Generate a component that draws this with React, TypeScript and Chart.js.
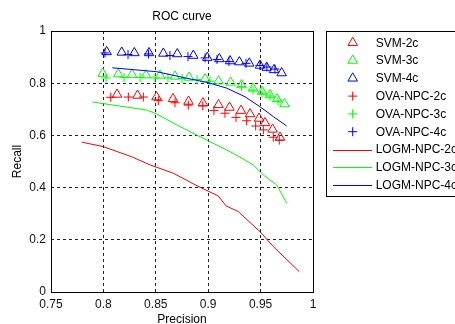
import React, { useEffect, useRef } from 'react';
import { Chart, registerables } from 'chart.js';

Chart.register(...registerables);

// ---- data ----
const xTickValues = [0.75, 0.8, 0.85, 0.9, 0.95, 1];
const xTickLabels = ['0.75', '0.8', '0.85', '0.9', '0.95', '1'];
const yTickValues = [0, 0.2, 0.4, 0.6, 0.8, 1];
const yTickLabels = ['0', '0.2', '0.4', '0.6', '0.8', '1'];

const svm2cX = [0.813, 0.8325, 0.8507, 0.8664, 0.8812, 0.895, 0.9098, 0.9203, 0.9313, 0.9399, 0.9485, 0.9542, 0.9614, 0.9685];
const svm2cY = [0.757, 0.753, 0.747, 0.74, 0.73, 0.724, 0.717, 0.707, 0.695, 0.682, 0.665, 0.648, 0.623, 0.592];

const svm3cX = [0.7993, 0.8142, 0.8273, 0.8406, 0.854, 0.8683, 0.8817, 0.897, 0.9098, 0.9213, 0.9318, 0.9428, 0.9514, 0.959, 0.9657, 0.9728];
const svm3cY = [0.837, 0.835, 0.833, 0.831, 0.83, 0.826, 0.822, 0.816, 0.808, 0.803, 0.793, 0.78, 0.768, 0.755, 0.739, 0.72];

const svm4cX = [0.8031, 0.8175, 0.8295, 0.8435, 0.8572, 0.8705, 0.8858, 0.8991, 0.9106, 0.9208, 0.9297, 0.9392, 0.9494, 0.9558, 0.9628, 0.9701];
const svm4cY = [0.92, 0.918, 0.916, 0.916, 0.914, 0.912, 0.906, 0.898, 0.893, 0.885, 0.881, 0.876, 0.868, 0.86, 0.851, 0.839];

const ova2cX = [0.807, 0.8238, 0.8381, 0.8524, 0.8683, 0.881, 0.8948, 0.9055, 0.916, 0.9265, 0.9367, 0.9453, 0.9526, 0.9621, 0.9678];
const ova2cY = [0.746, 0.747, 0.747, 0.733, 0.725, 0.716, 0.713, 0.695, 0.685, 0.669, 0.656, 0.636, 0.621, 0.593, 0.582];

const ova3cX = [0.8025, 0.8197, 0.835, 0.8492, 0.8616, 0.875, 0.8893, 0.9017, 0.9318, 0.9428, 0.9514, 0.959, 0.9666];
const ova3cY = [0.82, 0.822, 0.822, 0.82, 0.82, 0.818, 0.814, 0.808, 0.787, 0.774, 0.762, 0.751, 0.732];

const ova4cX = [0.8015, 0.8235, 0.843, 0.8635, 0.8807, 0.897, 0.9084, 0.9198, 0.9361, 0.9494, 0.956, 0.9637];
const ova4cY = [0.916, 0.91, 0.912, 0.906, 0.902, 0.897, 0.891, 0.883, 0.876, 0.868, 0.862, 0.854];

const logm2cX = [0.7793, 0.7999, 0.827, 0.8445, 0.8667, 0.8922, 0.9096, 0.917, 0.9287, 0.9494, 0.9621, 0.9869];
const logm2cY = [0.574, 0.557, 0.518, 0.487, 0.455, 0.401, 0.368, 0.33, 0.308, 0.231, 0.174, 0.078];

const logm3cX = [0.7894, 0.8413, 0.8509, 0.87, 0.8986, 0.924, 0.943, 0.9526, 0.9654, 0.9749];
const logm3cY = [0.728, 0.697, 0.682, 0.64, 0.582, 0.531, 0.487, 0.448, 0.41, 0.34];

const logm4cX = [0.8085, 0.8509, 0.8795, 0.9001, 0.9177, 0.9351, 0.9494, 0.9621, 0.9749];
const logm4cY = [0.859, 0.844, 0.819, 0.802, 0.781, 0.748, 0.71, 0.672, 0.636];

const RED = '#ff0000';
const GREEN = '#00ff00';
const BLUE = '#0000ff';
const FONT = '"Liberation Sans", Arial, Helvetica, sans-serif';

const zip = (xs: number[], ys: number[]) => xs.map((x, i) => ({ x, y: ys[i] }));

type Kind = 'triangle' | 'cross' | 'line';

const seriesDefs: { label: string; xs: number[]; ys: number[]; color: string; kind: Kind }[] = [
  { label: 'SVM-2c', xs: svm2cX, ys: svm2cY, color: RED, kind: 'triangle' },
  { label: 'SVM-3c', xs: svm3cX, ys: svm3cY, color: GREEN, kind: 'triangle' },
  { label: 'SVM-4c', xs: svm4cX, ys: svm4cY, color: BLUE, kind: 'triangle' },
  { label: 'OVA-NPC-2c', xs: ova2cX, ys: ova2cY, color: RED, kind: 'cross' },
  { label: 'OVA-NPC-3c', xs: ova3cX, ys: ova3cY, color: GREEN, kind: 'cross' },
  { label: 'OVA-NPC-4c', xs: ova4cX, ys: ova4cY, color: BLUE, kind: 'cross' },
  { label: 'LOGM-NPC-2c', xs: logm2cX, ys: logm2cY, color: RED, kind: 'line' },
  { label: 'LOGM-NPC-3c', xs: logm3cX, ys: logm3cY, color: GREEN, kind: 'line' },
  { label: 'LOGM-NPC-4c', xs: logm4cX, ys: logm4cY, color: BLUE, kind: 'line' },
];

const TRI_R = 5.5;
const CROSS_R = 4.5;

const decorPlugin = {
  id: 'matlabDecor',
  beforeDatasetsDraw(chart: any) {
    const { ctx, chartArea } = chart;
    const l = Math.round(chartArea.left) + 0.5;
    const t = Math.round(chartArea.top) + 0.5;
    const r = Math.round(chartArea.right) + 0.5;
    const b = Math.round(chartArea.bottom) + 0.5;
    ctx.save();
    ctx.strokeStyle = '#000';
    ctx.lineWidth = 1;
    ctx.setLineDash([]);
    ctx.strokeRect(l, t, r - l, b - t);
    ctx.restore();
  },
  afterDraw(chart: any) {
    const { ctx, chartArea } = chart;
    ctx.save();
    ctx.fillStyle = '#000';
    ctx.font = '12px ' + FONT;
    ctx.textBaseline = 'alphabetic';
    ctx.textAlign = 'center';
    const cx = (chartArea.left + chartArea.right) / 2;
    ctx.fillText('ROC curve', cx, 20);
    ctx.fillText('Precision', cx, 322.5);
    ctx.save();
    ctx.translate(20.5, (chartArea.top + chartArea.bottom) / 2);
    ctx.rotate(-Math.PI / 2);
    ctx.fillText('Recall', 0, 0);
    ctx.restore();

    // legend box
    const boxL = 326.5;
    const boxT = 31.5;
    ctx.strokeStyle = '#000';
    ctx.lineWidth = 1;
    ctx.strokeRect(boxL, boxT, 200, 165);
    const rowY0 = 42.7;
    const rowH = 17.8;
    ctx.textAlign = 'left';
    ctx.textBaseline = 'middle';
    chart.data.datasets.forEach((ds: any, i: number) => {
      const y = rowY0 + i * rowH;
      const mx = 352.7;
      ctx.strokeStyle = ds.borderColor;
      ctx.lineWidth = 1;
      ctx.beginPath();
      if (ds.kindTag === 'triangle') {
        const rr = TRI_R;
        ctx.moveTo(mx, y - rr);
        ctx.lineTo(mx + rr * Math.sin((2 * Math.PI) / 3), y + rr / 2);
        ctx.lineTo(mx - rr * Math.sin((2 * Math.PI) / 3), y + rr / 2);
        ctx.closePath();
      } else if (ds.kindTag === 'cross') {
        const rr = CROSS_R;
        ctx.moveTo(mx - rr, y);
        ctx.lineTo(mx + rr, y);
        ctx.moveTo(mx, y - rr);
        ctx.lineTo(mx, y + rr);
      } else {
        ctx.moveTo(333, Math.round(y) + 0.5);
        ctx.lineTo(372, Math.round(y) + 0.5);
      }
      ctx.stroke();
      ctx.fillStyle = '#000';
      ctx.fillText(ds.label, 375.7, y + 0.5);
    });
    ctx.restore();
  },
};

export default function App() {
  const canvasRef = useRef<HTMLCanvasElement | null>(null);

  useEffect(() => {
    if (!canvasRef.current) return;
    const n = seriesDefs.length;
    const datasets = seriesDefs.map((s, i) => {
      const base: any = {
        label: s.label,
        data: zip(s.xs, s.ys),
        borderColor: s.color,
        backgroundColor: 'rgba(0,0,0,0)',
        kindTag: s.kind,
        order: n - i,
      };
      if (s.kind === 'line') {
        return {
          ...base,
          showLine: true,
          borderWidth: 1,
          pointRadius: 0,
          pointHoverRadius: 0,
          fill: false,
          tension: 0,
        };
      }
      return {
        ...base,
        showLine: false,
        pointStyle: s.kind,
        pointRadius: s.kind === 'triangle' ? TRI_R : CROSS_R,
        pointHoverRadius: s.kind === 'triangle' ? TRI_R : CROSS_R,
        pointBorderWidth: 1,
        pointBorderColor: s.color,
        pointBackgroundColor: 'rgba(0,0,0,0)',
      };
    });

    const gridColor = (edgeA: number, edgeB: number) => (c: any) => {
      const v = c.tick ? c.tick.value : null;
      if (v === null) return '#222';
      if (Math.abs(v - edgeA) < 1e-9 || Math.abs(v - edgeB) < 1e-9) return 'rgba(0,0,0,0)';
      return '#222';
    };

    const tickFont = { family: FONT, size: 12 };

    const chart = new Chart(canvasRef.current, {
      type: 'scatter',
      data: { datasets },
      plugins: [decorPlugin],
      options: {
        responsive: false,
        animation: false,
        events: [],
        layout: { padding: { top: 31, right: 142, left: 0, bottom: 0 } },
        plugins: {
          legend: { display: false },
          title: { display: false },
          tooltip: { enabled: false },
        },
        scales: {
          x: {
            type: 'linear',
            min: 0.75,
            max: 1,
            afterBuildTicks: (s: any) => {
              s.ticks = xTickValues.map((v) => ({ value: v }));
            },
            afterFit: (s: any) => {
              s.height = 32;
            },
            grid: { color: gridColor(0.75, 1), lineWidth: 1, drawTicks: false },
            border: { display: false, dash: [3, 3] },
            ticks: {
              callback: (_v: any, i: number) => xTickLabels[i],
              padding: 5,
              font: tickFont,
              color: '#111',
              maxRotation: 0,
              autoSkip: false,
            },
          },
          y: {
            type: 'linear',
            min: 0,
            max: 1,
            afterBuildTicks: (s: any) => {
              s.ticks = yTickValues.map((v) => ({ value: v }));
            },
            afterFit: (s: any) => {
              s.width = 51;
            },
            grid: { color: gridColor(0, 1), lineWidth: 1, drawTicks: false },
            border: { display: false, dash: [3, 3] },
            ticks: {
              callback: (_v: any, i: number) => yTickLabels[i],
              padding: 5,
              font: tickFont,
              color: '#111',
              autoSkip: false,
            },
          },
        },
      } as any,
    });
    return () => chart.destroy();
  }, []);

  return (
    <div style={{ position: 'fixed', left: 0, top: 0, width: 455, height: 324, background: '#fff' }}>
      <canvas ref={canvasRef} width={455} height={324} style={{ width: 455, height: 324, display: 'block' }} />
    </div>
  );
}
